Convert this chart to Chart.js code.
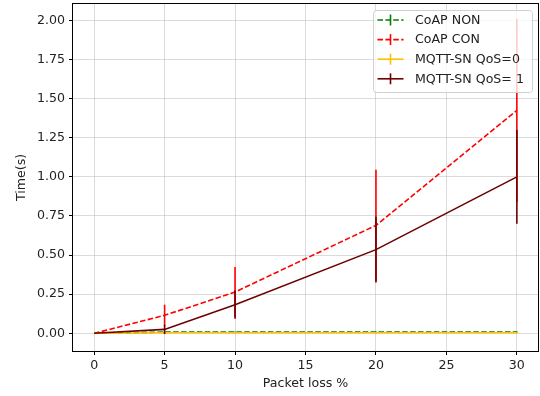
<!DOCTYPE html>
<html>
<head>
<meta charset="utf-8">
<script src="https://cdn.jsdelivr.net/npm/chart.js@4.4.1/dist/chart.umd.min.js"></script>
<style>
  html, body { margin: 0; padding: 0; background: #ffffff; }
  #wrap { width: 540px; height: 396px; position: relative; }
</style>
</head>
<body>
<div id="wrap"><canvas id="c" width="540" height="396"></canvas></div>
<script>
// ---- data ----
const packetLoss = [0, 5, 10, 20, 30];
const xTicks = [0, 5, 10, 15, 20, 25, 30];
const yTicks = [0, 0.25, 0.5, 0.75, 1.0, 1.25, 1.5, 1.75, 2.0];

const seriesNames = ['CoAP NON', 'CoAP CON', 'MQTT-SN QoS=0', 'MQTT-SN QoS= 1'];
const coapNon = [0, 0.008, 0.008, 0.008, 0.008];
const coapNonErr = [0, 0.004, 0.004, 0.004, 0.004];
const coapCon = [0, 0.115, 0.264, 0.69, 1.425];
const coapConErr = [0, 0.068, 0.16, 0.355, 0.585];
const qos0 = [0, 0.004, 0.004, 0.004, 0.004];
const qos0Err = [0, 0.008, 0.003, 0.003, 0.003];
const qos1 = [0, 0.025, 0.183, 0.535, 1.0];
const qos1Err = [0, 0.03, 0.09, 0.21, 0.30];

const colors = ['#008000', '#ff0000', '#ffbf00', '#6e0000'];
const dashed = [true, true, false, false];
const values = [coapNon, coapCon, qos0, qos1];
const errors = [coapNonErr, coapConErr, qos0Err, qos1Err];

const FONT = 'DejaVu Sans';
const FS = 12.6;
const DASH = [5.5, 2.4];

const datasets = values.map((vals, k) => ({
  label: seriesNames[k],
  data: packetLoss.map((x, i) => ({ x: x, y: vals[i] })),
  errs: errors[k],
  borderColor: colors[k],
  backgroundColor: colors[k],
  borderWidth: 1.6,
  borderDash: dashed[k] ? DASH : [],
  pointRadius: 0,
  tension: 0,
  fill: false,
  order: 4 - k
}));

const errorBarPlugin = {
  id: 'errorBars',
  afterDatasetDraw(chart, args) {
    const ds = chart.data.datasets[args.index];
    const meta = args.meta;
    const ys = chart.scales.y;
    const ctx = chart.ctx;
    ctx.save();
    ctx.strokeStyle = ds.borderColor;
    ctx.lineWidth = 1.6;
    ctx.setLineDash([]);
    meta.data.forEach((pt, i) => {
      const e = ds.errs[i];
      if (!e) return;
      const v = ds.data[i].y;
      const y1 = ys.getPixelForValue(v - e);
      const y2 = ys.getPixelForValue(v + e);
      ctx.beginPath();
      ctx.moveTo(pt.x, y1);
      ctx.lineTo(pt.x, y2);
      ctx.stroke();
    });
    ctx.restore();
  }
};

const framePlugin = {
  id: 'frameAndLegend',
  afterDraw(chart) {
    const ctx = chart.ctx;
    const a = chart.chartArea;
    ctx.save();
    ctx.strokeStyle = '#000000';
    ctx.lineWidth = 1;
    ctx.strokeRect(Math.round(a.left) - 0.5, Math.round(a.top) - 0.5,
                   Math.round(a.right - a.left) + 1, Math.round(a.bottom - a.top) + 1);

    // legend (upper right, inside axes)
    const bx = 373.5, by = 10.5, bw = 159, bh = 82, r = 3;
    ctx.beginPath();
    ctx.moveTo(bx + r, by);
    ctx.lineTo(bx + bw - r, by);
    ctx.arcTo(bx + bw, by, bx + bw, by + r, r);
    ctx.lineTo(bx + bw, by + bh - r);
    ctx.arcTo(bx + bw, by + bh, bx + bw - r, by + bh, r);
    ctx.lineTo(bx + r, by + bh);
    ctx.arcTo(bx, by + bh, bx, by + bh - r, r);
    ctx.lineTo(bx, by + r);
    ctx.arcTo(bx, by, bx + r, by, r);
    ctx.closePath();
    ctx.fillStyle = 'rgba(255,255,255,0.8)';
    ctx.fill();
    ctx.strokeStyle = '#d0d0d0';
    ctx.lineWidth = 1;
    ctx.stroke();

    const rowY = [20, 39.6, 59.2, 78.8];
    chart.data.datasets.forEach((ds, k) => {
      const y = rowY[k];
      ctx.strokeStyle = ds.borderColor;
      ctx.lineWidth = 1.6;
      ctx.setLineDash(dashed[k] ? DASH : []);
      ctx.beginPath();
      ctx.moveTo(377.5, y);
      ctx.lineTo(403.5, y);
      ctx.stroke();
      ctx.setLineDash([]);
      ctx.beginPath();
      ctx.moveTo(390.5, y - 5.5);
      ctx.lineTo(390.5, y + 5.5);
      ctx.stroke();
      ctx.fillStyle = '#222222';
      ctx.font = FS + 'px "' + FONT + '"';
      ctx.textBaseline = 'middle';
      ctx.textAlign = 'left';
      ctx.fillText(ds.label, 415, y + 0.5);
    });
    ctx.restore();
  }
};

new Chart(document.getElementById('c'), {
  type: 'line',
  data: { datasets: datasets },
  options: {
    responsive: false,
    animation: false,
    devicePixelRatio: 1,
    layout: { padding: { left: 0, right: 2, top: 4, bottom: 0 } },
    plugins: { legend: { display: false }, tooltip: { enabled: false } },
    scales: {
      x: {
        type: 'linear',
        min: -1.5,
        max: 31.5,
        afterBuildTicks: s => { s.ticks = xTicks.map(v => ({ value: v })); },
        afterFit: s => { s.height = 45; s.paddingLeft = 0; s.paddingRight = 0; },
        ticks: {
          color: '#222222',
          font: { family: FONT, size: FS },
          padding: 3,
          maxRotation: 0,
          autoSkip: false,
          callback: v => String(v)
        },
        grid: { color: 'rgba(176,176,176,0.45)', lineWidth: 1, drawTicks: true, tickLength: 4, tickColor: '#000000', tickWidth: 1 },
        border: { display: false },
        title: { display: true, text: 'Packet loss %', color: '#222222', font: { family: FONT, size: FS }, padding: { top: 0, bottom: 5 } }
      },
      y: {
        type: 'linear',
        min: -0.113,
        max: 2.105,
        afterBuildTicks: s => { s.ticks = yTicks.map(v => ({ value: v })); },
        afterFit: s => { s.width = 73; s.paddingTop = 0; s.paddingBottom = 0; },
        ticks: {
          color: '#222222',
          font: { family: FONT, size: FS },
          padding: 4,
          autoSkip: false,
          callback: v => Number(v).toFixed(2)
        },
        grid: { color: 'rgba(176,176,176,0.45)', lineWidth: 1, drawTicks: true, tickLength: 4, tickColor: '#000000', tickWidth: 1 },
        border: { display: false },
        title: { display: true, text: 'Time(s)', color: '#222222', font: { family: FONT, size: FS }, padding: { top: 14, bottom: 0 } }
      }
    }
  },
  plugins: [errorBarPlugin, framePlugin]
});
</script>
</body>
</html>
